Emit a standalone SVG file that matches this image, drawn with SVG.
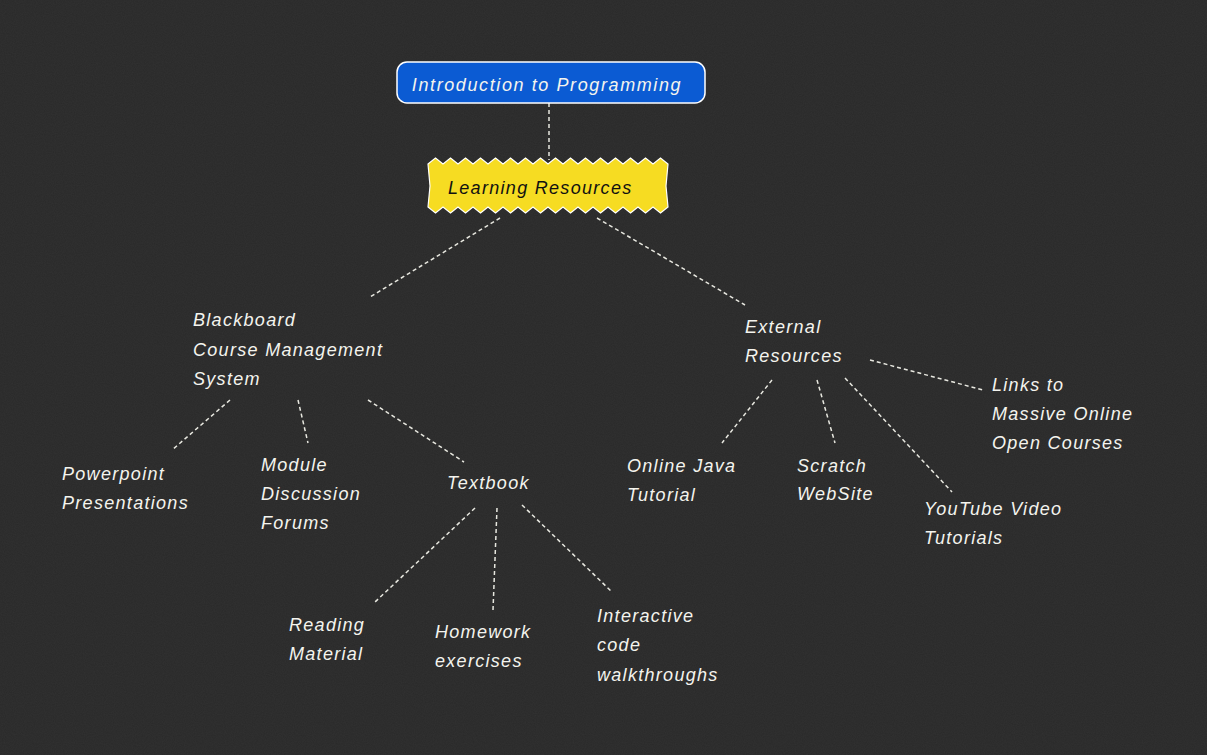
<svg xmlns="http://www.w3.org/2000/svg" width="1207" height="755" viewBox="0 0 1207 755">
  <defs>
    <style>
      .lbl { font-family: "Liberation Sans", "DejaVu Sans", sans-serif; font-style: italic; font-size: 18px; letter-spacing: 1.3px; fill: #f4f4ee; }
      .title { letter-spacing: 1.6px; }
      .dark { fill: #111111; }
      .conn { stroke: #e8e8e0; stroke-width: 1.5; stroke-dasharray: 4 3; fill: none; }
    </style>
    <filter id="chalk" x="0" y="0" width="100%" height="100%">
      <feTurbulence type="fractalNoise" baseFrequency="0.9" numOctaves="2" seed="3" result="n"/>
      <feColorMatrix type="matrix" values="0 0 0 0 1  0 0 0 0 1  0 0 0 0 1  0 0 0 0.04 0"/>
    </filter>
  </defs>

  <!-- chalkboard -->
  <rect x="0" y="0" width="1207" height="755" fill="#292929"/>
  <rect x="0" y="0" width="1207" height="755" filter="url(#chalk)"/>

  <!-- connectors -->
  <g id="connectors">
    <line class="conn" x1="549" y1="103" x2="549" y2="160"/>
    <line class="conn" x1="500" y1="218" x2="370" y2="297"/>
    <line class="conn" x1="597" y1="218" x2="745" y2="305"/>
    <line class="conn" x1="230" y1="400" x2="172" y2="450"/>
    <line class="conn" x1="298" y1="400" x2="308" y2="443"/>
    <line class="conn" x1="368" y1="400" x2="464" y2="462"/>
    <line class="conn" x1="475" y1="508" x2="375" y2="602"/>
    <line class="conn" x1="497" y1="508" x2="493" y2="610"/>
    <line class="conn" x1="522" y1="505" x2="612" y2="592"/>
    <line class="conn" x1="772" y1="380" x2="722" y2="443"/>
    <line class="conn" x1="817" y1="380" x2="835" y2="443"/>
    <line class="conn" x1="845" y1="378" x2="952" y2="492"/>
    <line class="conn" x1="870" y1="360" x2="983" y2="390"/>
  </g>

  <!-- root -->
  <g id="intro">
    <rect x="397" y="62" width="308" height="41" rx="10" fill="#0b5bd3" stroke="#ffffff" stroke-width="1.5"/>
    <text class="lbl title" x="547" y="91" text-anchor="middle">Introduction to Programming</text>
  </g>

  <g id="learning-resources">
    <path d="M428,164 l7.5,-6 l7.5,6 l7.5,-6 l7.5,6 l7.5,-6 l7.5,6 l7.5,-6 l7.5,6 l7.5,-6 l7.5,6 l7.5,-6 l7.5,6 l7.5,-6 l7.5,6 l7.5,-6 l7.5,6 l7.5,-6 l7.5,6 l7.5,-6 l7.5,6 l7.5,-6 l7.5,6 l7.5,-6 l7.5,6 l7.5,-6 l7.5,6 l7.5,-6 l7.5,6 l7.5,-6 l7.5,6 l7.5,-6 l7.5,6 L666,186 L668,207 l-7.5,6 l-7.5,-6 l-7.5,6 l-7.5,-6 l-7.5,6 l-7.5,-6 l-7.5,6 l-7.5,-6 l-7.5,6 l-7.5,-6 l-7.5,6 l-7.5,-6 l-7.5,6 l-7.5,-6 l-7.5,6 l-7.5,-6 l-7.5,6 l-7.5,-6 l-7.5,6 l-7.5,-6 l-7.5,6 l-7.5,-6 l-7.5,6 l-7.5,-6 l-7.5,6 l-7.5,-6 l-7.5,6 l-7.5,-6 l-7.5,6 l-7.5,-6 l-7.5,6 l-7.5,-6 L430,186 Z" fill="#f6dc22" stroke="#ffffff" stroke-width="1.2"/>
    <text class="lbl dark" x="448" y="194">Learning Resources</text>
  </g>

  <g id="blackboard">
    <text class="lbl" x="193" y="326">Blackboard</text>
    <text class="lbl" x="193" y="356">Course Management</text>
    <text class="lbl" x="193" y="385">System</text>
  </g>

  <g id="external-resources">
    <text class="lbl" x="745" y="333">External</text>
    <text class="lbl" x="745" y="362">Resources</text>
  </g>

  <g id="powerpoint">
    <text class="lbl" x="62" y="480">Powerpoint</text>
    <text class="lbl" x="62" y="509">Presentations</text>
  </g>

  <g id="forums">
    <text class="lbl" x="261" y="471">Module</text>
    <text class="lbl" x="261" y="500">Discussion</text>
    <text class="lbl" x="261" y="529">Forums</text>
  </g>

  <g id="textbook">
    <text class="lbl" x="447" y="489">Textbook</text>
  </g>

  <g id="reading">
    <text class="lbl" x="289" y="631">Reading</text>
    <text class="lbl" x="289" y="660">Material</text>
  </g>

  <g id="homework">
    <text class="lbl" x="435" y="638">Homework</text>
    <text class="lbl" x="435" y="667">exercises</text>
  </g>

  <g id="walkthroughs">
    <text class="lbl" x="597" y="622">Interactive</text>
    <text class="lbl" x="597" y="651">code</text>
    <text class="lbl" x="597" y="681">walkthroughs</text>
  </g>

  <g id="java">
    <text class="lbl" x="627" y="472">Online Java</text>
    <text class="lbl" x="627" y="501">Tutorial</text>
  </g>

  <g id="scratch">
    <text class="lbl" x="797" y="472">Scratch</text>
    <text class="lbl" x="797" y="500">WebSite</text>
  </g>

  <g id="youtube">
    <text class="lbl" x="924" y="515">YouTube Video</text>
    <text class="lbl" x="924" y="544">Tutorials</text>
  </g>

  <g id="mooc">
    <text class="lbl" x="992" y="391">Links to</text>
    <text class="lbl" x="992" y="420">Massive Online</text>
    <text class="lbl" x="992" y="449">Open Courses</text>
  </g>
</svg>
